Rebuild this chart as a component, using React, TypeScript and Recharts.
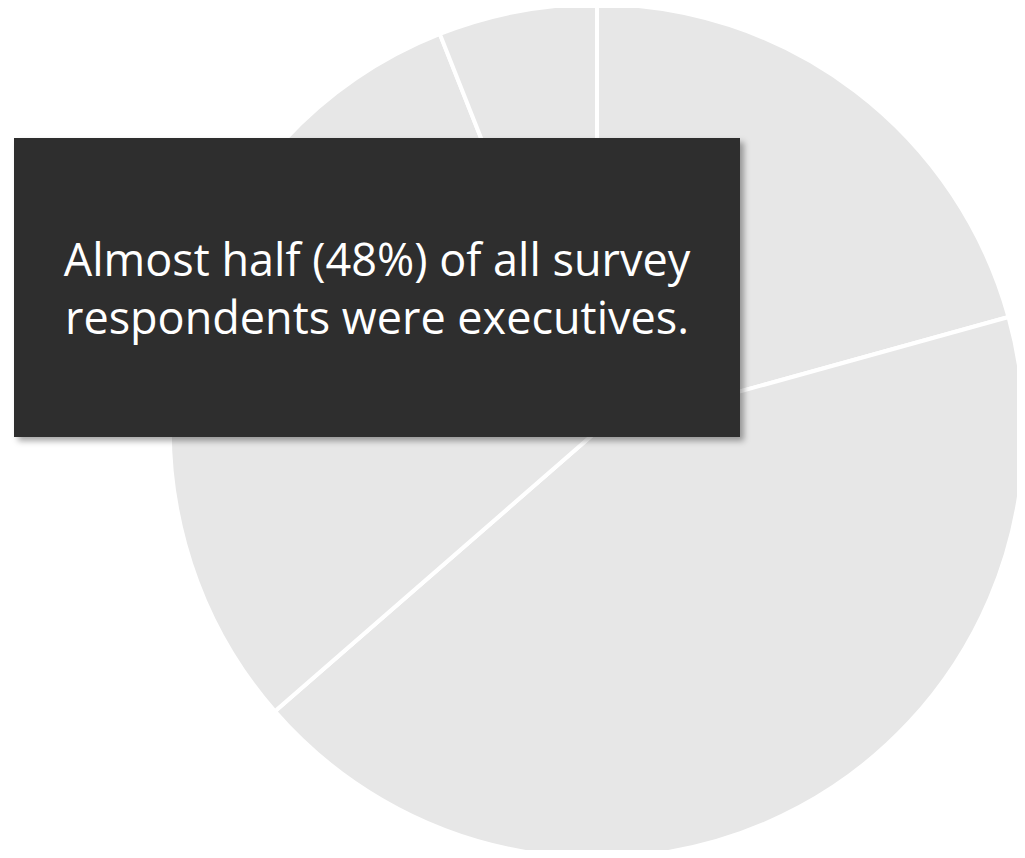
import { Cell, Pie, PieChart } from 'recharts';

const roles = ['Manager', 'Executive', 'Individual contributor', 'Other'];
const shares = [20.7, 42.9, 30.4, 6.0];

const pieData = roles.map((name, i) => ({ name, value: shares[i] }));

const calloutLines = ['Almost half (48%) of all survey', 'respondents were executives.'];

export default function App() {
  return (
    <div style={{ position: 'relative', width: 1009, height: 842 }}>
      <PieChart width={1009} height={850} style={{ position: 'absolute', left: 0, top: 0 }}>
        <Pie
          data={pieData}
          dataKey="value"
          nameKey="name"
          cx={584}
          cy={418}
          outerRadius={427}
          startAngle={90}
          endAngle={-270}
          stroke="#ffffff"
          strokeWidth={4}
          isAnimationActive={false}
        >
          {pieData.map((d) => (
            <Cell key={d.name} fill="#e7e7e7" />
          ))}
        </Pie>
      </PieChart>
      <div
        style={{
          position: 'absolute',
          left: 6,
          top: 130,
          width: 726,
          height: 299,
          background: '#2e2e2e',
          boxShadow: '4px 4px 6px rgba(0,0,0,0.35)',
          color: '#ffffff',
          fontFamily: '"Open Sans", sans-serif',
          fontSize: 45,
          lineHeight: '58px',
          textAlign: 'center',
          display: 'flex',
          flexDirection: 'column',
          justifyContent: 'center',
        }}
      >
        {calloutLines.map((l) => (
          <div key={l}>{l}</div>
        ))}
      </div>
    </div>
  );
}
